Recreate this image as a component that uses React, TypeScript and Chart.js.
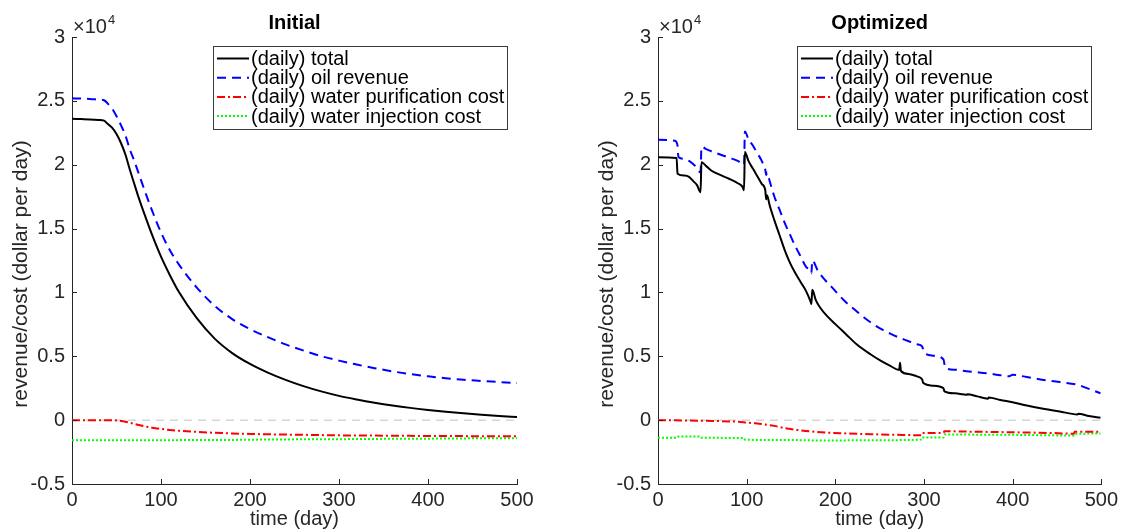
import React, { useEffect, useRef } from "react";
import { Chart, registerables } from "chart.js";

Chart.register(...registerables);

// ---------- Data (dollars per day) ----------
const seriesLabels = [
  "(daily) total",
  "(daily) oil revenue",
  "(daily) water purification cost",
  "(daily) water injection cost",
];
const panelTitles = ["Initial", "Optimized"];
const yTickValues = [-5000, 0, 5000, 10000, 15000, 20000, 25000, 30000];
const xTickValues = [0, 100, 200, 300, 400, 500];

// Initial panel (shared days)
const initDays = [0, 10, 20, 30, 36, 40, 45, 50, 55, 60, 65, 70, 75, 80, 90, 100, 110, 120, 140, 160, 180, 200, 220, 240, 260, 280, 300, 320, 340, 360, 380, 400, 420, 440, 460, 480, 500];
const initTotal = [23600, 23570, 23540, 23500, 23450, 23200, 22900, 22400, 21700, 20800, 19600, 18500, 17400, 16400, 14500, 12800, 11350, 10050, 8000, 6400, 5250, 4400, 3720, 3150, 2660, 2250, 1900, 1620, 1370, 1150, 960, 800, 660, 540, 430, 330, 240];
const initOil = [25200, 25180, 25150, 25100, 25050, 24800, 24400, 23800, 23100, 22300, 21200, 20300, 19300, 18300, 16400, 14700, 13300, 12200, 10400, 8970, 7910, 7120, 6500, 5930, 5450, 5010, 4660, 4350, 4070, 3820, 3610, 3430, 3280, 3160, 3070, 2980, 2900];
const initPurification = [0, 0, 0, 0, 0, -5, -10, -20, -60, -120, -200, -290, -380, -460, -590, -690, -770, -830, -920, -990, -1040, -1080, -1110, -1130, -1150, -1170, -1190, -1200, -1210, -1220, -1230, -1240, -1250, -1250, -1260, -1260, -1270];
const initInjection = [-1580, -1580, -1580, -1580, -1580, -1580, -1580, -1580, -1580, -1580, -1580, -1580, -1575, -1575, -1575, -1570, -1570, -1565, -1560, -1555, -1550, -1530, -1520, -1510, -1500, -1495, -1490, -1480, -1470, -1460, -1455, -1450, -1440, -1430, -1420, -1415, -1410];

// Optimized panel
const optTotalDays = [0, 21, 22, 30, 35, 40, 44, 48, 49, 55, 60, 70, 80, 90, 95, 97, 98, 102, 107, 112, 117, 121, 122, 123, 126, 131, 137, 143, 149, 155, 161, 167, 172, 173, 174, 178, 183, 190, 200, 212, 224, 240, 252, 262, 272, 273, 274, 284, 292, 298, 299, 310, 322, 323, 335, 348, 349, 360, 372, 373, 386, 400, 416, 433, 453, 473, 474, 486, 499];
const optTotal = [20580, 20530, 19300, 19150, 19050, 18700, 18400, 17850, 20200, 19850, 19550, 19200, 18900, 18550, 18300, 18000, 21000, 20300, 19700, 19100, 18500, 18000, 17300, 17600, 16800, 15700, 14500, 13300, 12300, 11500, 10800, 10100, 9300, 9100, 10200, 9400, 8800, 8200, 7520, 6730, 5940, 5140, 4620, 4250, 3920, 4500, 3850, 3600, 3430, 3180, 2920, 2700, 2500, 2260, 2100, 1980, 2030, 1860, 1680, 1780, 1580, 1400, 1150, 920, 680, 450, 500, 320, 180];
const optOilDays = [0, 19, 22, 23, 30, 35, 42, 48, 49, 55, 60, 70, 80, 90, 97, 98, 102, 107, 112, 117, 121, 122, 123, 126, 131, 137, 143, 149, 155, 161, 167, 172, 173, 174, 180, 188, 196, 204, 212, 222, 232, 242, 252, 262, 272, 282, 292, 298, 300, 310, 322, 324, 335, 348, 360, 372, 386, 396, 400, 416, 433, 453, 473, 486, 499];
const optOil = [21950, 21870, 21500, 20600, 20450, 20300, 19900, 19400, 21400, 21200, 21050, 20800, 20550, 20300, 20000, 22600, 22000, 21500, 20900, 20300, 19600, 19200, 19400, 18700, 17550, 16500, 15430, 14500, 13600, 12800, 12000, 11700, 11500, 12500, 11740, 11000, 10420, 9800, 9230, 8650, 8050, 7550, 7120, 6770, 6460, 6200, 5940, 5750, 5300, 5050, 4750, 4100, 3950, 3830, 3750, 3660, 3520, 3430, 3560, 3370, 3170, 2980, 2770, 2450, 2110];
const optPurificationDays = [0, 50, 91, 99, 110, 120, 131, 141, 151, 161, 171, 190, 212, 240, 270, 297, 298, 322, 323, 350, 372, 400, 440, 469, 470, 499];
const optPurification = [0, -50, -130, -180, -250, -330, -450, -600, -720, -800, -870, -970, -1040, -1100, -1150, -1180, -1000, -1000, -870, -900, -920, -950, -1000, -1060, -900, -900];
const optInjectionDays = [0, 22, 23, 48, 49, 97, 98, 140, 172, 174, 250, 297, 298, 322, 323, 400, 469, 470, 499];
const optInjection = [-1370, -1370, -1280, -1280, -1380, -1400, -1530, -1560, -1580, -1600, -1570, -1520, -1360, -1360, -1130, -1150, -1200, -1080, -1050];

const zeroLineDays = [0, 500];
const zeroLineValues = [0, 0];

// ---------- Styles ----------
const FONT = '"Liberation Sans", Arial, Helvetica, sans-serif';
const seriesStyles = [
  { color: "#000000", dash: [] as number[] },
  { color: "#0000ff", dash: [9, 6] },
  { color: "#ff0000", dash: [8, 3, 2, 3] },
  { color: "#00ff00", dash: [2, 2] },
];

function pts(days: number[], vals: number[]) {
  return days.map((d, i) => ({ x: d, y: vals[i] }));
}

const decorPlugin = {
  id: "decor",
  afterDraw(chart: any, _args: any, opts: any) {
    const { ctx, chartArea: a, scales } = chart;
    const xs = scales.x;
    const ys = scales.y;
    ctx.save();
    // inward tick marks
    ctx.strokeStyle = "#262626";
    ctx.lineWidth = 1;
    ctx.setLineDash([]);
    ctx.beginPath();
    for (const t of ys.ticks) {
      const py = Math.round(ys.getPixelForValue(t.value)) + 0.5;
      ctx.moveTo(a.left, py);
      ctx.lineTo(a.left + 5, py);
    }
    for (const t of xs.ticks) {
      const px = Math.round(xs.getPixelForValue(t.value)) + 0.5;
      ctx.moveTo(px, a.bottom);
      ctx.lineTo(px, a.bottom - 5);
    }
    ctx.stroke();

    // title
    ctx.fillStyle = "#000";
    ctx.textAlign = "center";
    ctx.textBaseline = "alphabetic";
    ctx.font = `bold 20px ${FONT}`;
    ctx.fillText(opts.title, (a.left + a.right) / 2, 29);

    // exponent label
    ctx.fillStyle = "#262626";
    ctx.textAlign = "left";
    ctx.font = `20px ${FONT}`;
    ctx.fillText("\u00d710", a.left + 1, 33);
    const w = ctx.measureText("\u00d710").width;
    ctx.font = `13px ${FONT}`;
    ctx.fillText("4", a.left + 2 + w, 24);

    // axis titles
    ctx.font = `20px ${FONT}`;
    ctx.textAlign = "center";
    ctx.fillText("time (day)", (a.left + a.right) / 2, 525);
    ctx.save();
    ctx.translate(a.left - 45, 274);
    ctx.rotate(-Math.PI / 2);
    ctx.font = `21px ${FONT}`;
    ctx.fillText("revenue/cost (dollar per day)", 0, 0);
    ctx.restore();

    // legend
    ctx.font = `20px ${FONT}`;
    const items = chart.data.datasets.filter((d: any) => d.label);
    let maxW = 0;
    for (const d of items) maxW = Math.max(maxW, ctx.measureText(d.label).width);
    const bw = Math.round(38 + maxW + 3);
    const bh = 83;
    const bx = Math.round(a.right - 10 - bw);
    const by = Math.round(a.top + 9);
    ctx.fillStyle = "#fff";
    ctx.fillRect(bx, by, bw, bh);
    ctx.strokeStyle = "#3a3a3a";
    ctx.lineWidth = 1;
    ctx.strokeRect(bx + 0.5, by + 0.5, bw, bh);
    items.forEach((d: any, i: number) => {
      const cy = by + 12.5 + i * 19.2;
      ctx.strokeStyle = d.borderColor;
      ctx.lineWidth = d.borderWidth;
      ctx.setLineDash(d.borderDash || []);
      ctx.beginPath();
      ctx.moveTo(bx + 4, cy);
      ctx.lineTo(bx + 36, cy);
      ctx.stroke();
      ctx.setLineDash([]);
      ctx.fillStyle = "#000";
      ctx.textAlign = "left";
      ctx.textBaseline = "middle";
      ctx.fillText(d.label, bx + 38, cy + 1);
    });
    ctx.restore();
  },
};

function makeConfig(title: string, series: { x: number; y: number }[][], padLeft: number, padRight: number): any {
  const datasets: any[] = series.map((data, i) => ({
    label: seriesLabels[i],
    data,
    borderColor: seriesStyles[i].color,
    borderDash: seriesStyles[i].dash,
    borderWidth: 2,
    pointRadius: 0,
    fill: false,
    cubicInterpolationMode: "monotone",
  }));
  datasets.push({
    label: "",
    data: pts(zeroLineDays, zeroLineValues),
    borderColor: "#c0c0c0",
    borderDash: [8, 6],
    borderWidth: 1,
    pointRadius: 0,
    fill: false,
  });
  return {
    type: "line",
    data: { datasets },
    plugins: [decorPlugin],
    options: {
      responsive: false,
      animation: false,
      layout: { padding: { top: 37, left: padLeft, right: padRight, bottom: 0 } },
      plugins: {
        legend: { display: false },
        title: { display: false },
        tooltip: { enabled: false },
        decor: { title },
      },
      scales: {
        x: {
          type: "linear",
          min: 0,
          max: 500,
          afterFit: (s: any) => {
            s.height = 45;
          },
          afterBuildTicks: (s: any) => {
            s.ticks = xTickValues.map((v) => ({ value: v }));
          },
          ticks: {
            color: "#262626",
            font: { size: 20, family: FONT },
            padding: 4,
            maxRotation: 0,
            callback: (v: number) => String(v),
          },
          grid: { display: false, drawTicks: false },
          border: { display: true, color: "#262626", width: 1 },
        },
        y: {
          type: "linear",
          min: -5000,
          max: 30000,
          afterFit: (s: any) => {
            s.width = 72;
          },
          afterBuildTicks: (s: any) => {
            s.ticks = yTickValues.map((v) => ({ value: v }));
          },
          ticks: {
            color: "#262626",
            font: { size: 20, family: FONT },
            padding: 7,
            callback: (v: number) => String(v / 10000),
          },
          grid: { display: false, drawTicks: false },
          border: { display: true, color: "#262626", width: 1 },
        },
      },
    },
  };
}

export default function App() {
  const leftRef = useRef<HTMLCanvasElement>(null);
  const rightRef = useRef<HTMLCanvasElement>(null);

  useEffect(() => {
    const left = new Chart(
      leftRef.current as HTMLCanvasElement,
      makeConfig(
        panelTitles[0],
        [pts(initDays, initTotal), pts(initDays, initOil), pts(initDays, initPurification), pts(initDays, initInjection)],
        0,
        44
      )
    );
    const right = new Chart(
      rightRef.current as HTMLCanvasElement,
      makeConfig(
        panelTitles[1],
        [
          pts(optTotalDays, optTotal),
          pts(optOilDays, optOil),
          pts(optPurificationDays, optPurification),
          pts(optInjectionDays, optInjection),
        ],
        25,
        19
      )
    );
    return () => {
      left.destroy();
      right.destroy();
    };
  }, []);

  return (
    <div style={{ position: "absolute", left: 0, top: 0, width: 1122, height: 529, background: "#fff", overflow: "hidden" }}>
      <canvas ref={leftRef} width={561} height={529} style={{ position: "absolute", left: 0, top: 0, display: "block" }} />
      <canvas ref={rightRef} width={561} height={529} style={{ position: "absolute", left: 561, top: 0, display: "block" }} />
    </div>
  );
}
